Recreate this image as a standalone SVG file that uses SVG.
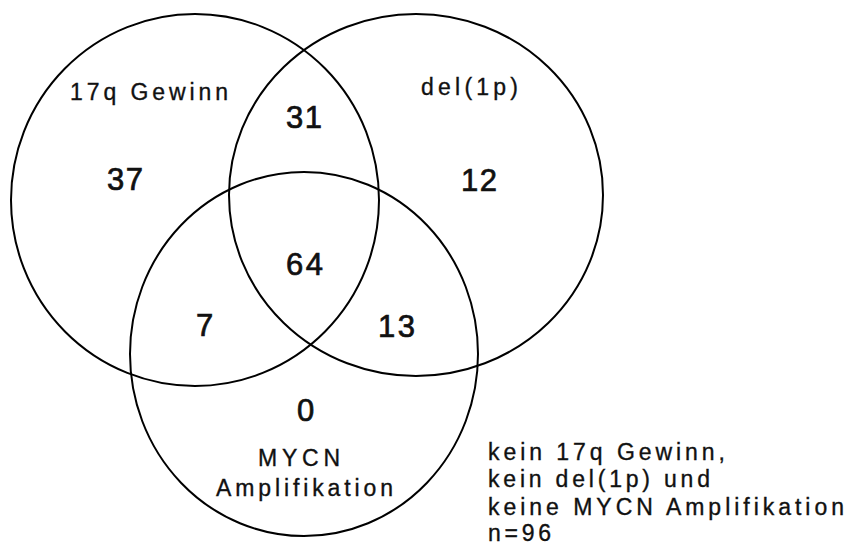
<svg xmlns="http://www.w3.org/2000/svg" width="847" height="549" viewBox="0 0 847 549">
  <style>
    .set { fill: none; stroke: #000; stroke-width: 2; }
    .lbl { font-family: "Liberation Sans", Arial, sans-serif; font-size: 23px; fill: #111; stroke: #111; stroke-width: 0.35; }
    .num { font-family: "Liberation Sans", Arial, sans-serif; font-size: 31px; fill: #111; stroke: #111; stroke-width: 0.7; }
  </style>
  <rect width="847" height="549" fill="#fff"/>

  <!-- Set: 17q gain -->
  <g id="set-17q">
    <ellipse class="set" cx="195" cy="200" rx="184" ry="186"/>
    <text class="lbl" x="70" y="100" textLength="158" lengthAdjust="spacing">17q Gewinn</text>
  </g>

  <!-- Set: 1p deletion -->
  <g id="set-1p">
    <ellipse class="set" cx="416" cy="195" rx="187" ry="181"/>
    <text class="lbl" x="421" y="95" textLength="97" lengthAdjust="spacing">del(1p)</text>
  </g>

  <!-- Set: MYCN amplification -->
  <g id="set-mycn">
    <ellipse class="set" cx="304" cy="354" rx="174" ry="182"/>
    <text class="lbl" x="258" y="466" textLength="82" lengthAdjust="spacing">MYCN</text>
    <text class="lbl" x="216" y="496" textLength="177" lengthAdjust="spacing">Amplifikation</text>
  </g>

  <!-- Region counts -->
  <g id="counts">
    <text class="num" x="107" y="190" textLength="36" lengthAdjust="spacing">37</text>
    <text class="num" x="286" y="128" textLength="36" lengthAdjust="spacing">31</text>
    <text class="num" x="461" y="191" textLength="36" lengthAdjust="spacing">12</text>
    <text class="num" x="286" y="275" textLength="37" lengthAdjust="spacing">64</text>
    <text class="num" x="196" y="336">7</text>
    <text class="num" x="378" y="337" textLength="37" lengthAdjust="spacing">13</text>
    <text class="num" x="297" y="421">0</text>
  </g>

  <!-- Outside all sets -->
  <g id="none">
    <text class="lbl" x="488" y="460" textLength="237" lengthAdjust="spacing">kein 17q Gewinn,</text>
    <text class="lbl" x="488" y="487" textLength="222" lengthAdjust="spacing">kein del(1p) und</text>
    <text class="lbl" x="488" y="515" textLength="356" lengthAdjust="spacing">keine MYCN Amplifikation</text>
    <text class="lbl" x="488" y="541" textLength="63" lengthAdjust="spacing">n=96</text>
  </g>
</svg>
